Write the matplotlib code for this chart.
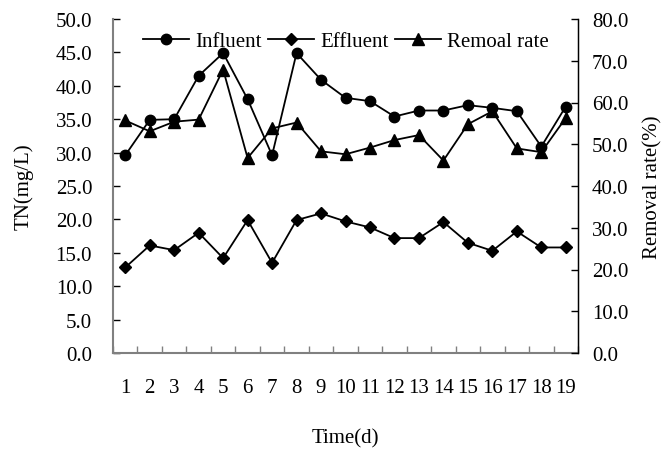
import numpy as np
import matplotlib
matplotlib.use("Agg")
import matplotlib.pyplot as plt

plt.rcParams['font.family'] = ['Liberation Serif', 'DejaVu Serif']

days = list(range(1, 20))
influent = [29.6, 34.9, 35.0, 41.5, 44.9, 38.0, 29.6, 44.9, 40.9, 38.2,
            37.7, 35.4, 36.3, 36.3, 37.1, 36.7, 36.2, 30.9, 36.9]
effluent = [12.8, 16.1, 15.4, 18.0, 14.2, 19.9, 13.5, 19.9, 20.9, 19.7,
            18.8, 17.2, 17.2, 19.6, 16.5, 15.3, 18.2, 15.8, 15.8]
removal = [55.7, 53.1, 55.4, 55.9, 67.9, 46.7, 53.8, 55.2, 48.3, 47.6,
           49.2, 51.0, 52.2, 46.1, 54.8, 57.9, 49.0, 48.1, 56.3]

fs = 15
fig = plt.figure(figsize=(6.65, 4.77), dpi=100)
ax = fig.add_axes([113/665, 1-354/477, (578-113)/665, (354-20)/477])
ax2 = ax.twinx()

l1, = ax.plot(days, influent, color='black', lw=1.3, marker='o', ms=7.5, label='Influent')
l2, = ax.plot(days, effluent, color='black', lw=1.3, marker='D', ms=6.5, label='Effluent')
l3, = ax2.plot(days, removal, color='black', lw=1.3, marker='^', ms=8.5, label='Remoal rate')

ax.set_xlim(0.5, 19.5)
ax.set_ylim(0, 50)
ax2.set_ylim(0, 80)
ax.set_yticks(np.arange(0, 50.1, 5))
ax.set_yticklabels(['%.1f' % v for v in np.arange(0, 50.1, 5)])
ax2.set_yticks(np.arange(0, 80.1, 10))
ax2.set_yticklabels(['%.1f' % v for v in np.arange(0, 80.1, 10)])

# category axis: ticks between days, labels centred
ax.set_xticks(np.arange(0.5, 19.6, 1))
ax.set_xticklabels([])
ax.set_xticks(days, minor=True)
ax.set_xticklabels([str(d) for d in days], minor=True)
ax.tick_params(axis='x', which='minor', length=0, pad=18, labelsize=fs)
ax.tick_params(axis='x', which='major', direction='in', length=5, color='#808080', width=1)
ax.tick_params(axis='y', direction='in', length=5, width=1, color='black', pad=15, labelsize=fs)
ax2.tick_params(axis='y', direction='in', length=5, width=1, color='black', pad=10, labelsize=fs)

for a in (ax, ax2):
    a.spines['top'].set_visible(False)
ax.spines['left'].set_color('#808080')
ax.spines['left'].set_linewidth(1.5)
ax.spines['bottom'].set_color('#808080')
ax.spines['bottom'].set_linewidth(1.5)
ax2.spines['left'].set_visible(False)
ax2.spines['bottom'].set_visible(False)
ax2.spines['right'].set_linewidth(1)

ax.set_ylabel('TN(mg/L)', fontsize=fs)
ax.yaxis.set_label_coords(-0.17, 0.5)
ax2.set_ylabel('Removal rate(%)', fontsize=fs)
ax2.yaxis.set_label_coords(1.14, 0.5)
ax.set_xlabel('Time(d)', fontsize=fs)
ax.xaxis.set_label_coords(0.5, -0.225)

fig.legend(handles=[l1, l2, l3], loc='center', bbox_to_anchor=(346/665, 1-42/477),
           ncol=3, frameon=False, fontsize=fs, handlelength=2.2, handletextpad=0.3,
           columnspacing=0.3, borderpad=0)

fig.savefig('out.png', dpi=100)
